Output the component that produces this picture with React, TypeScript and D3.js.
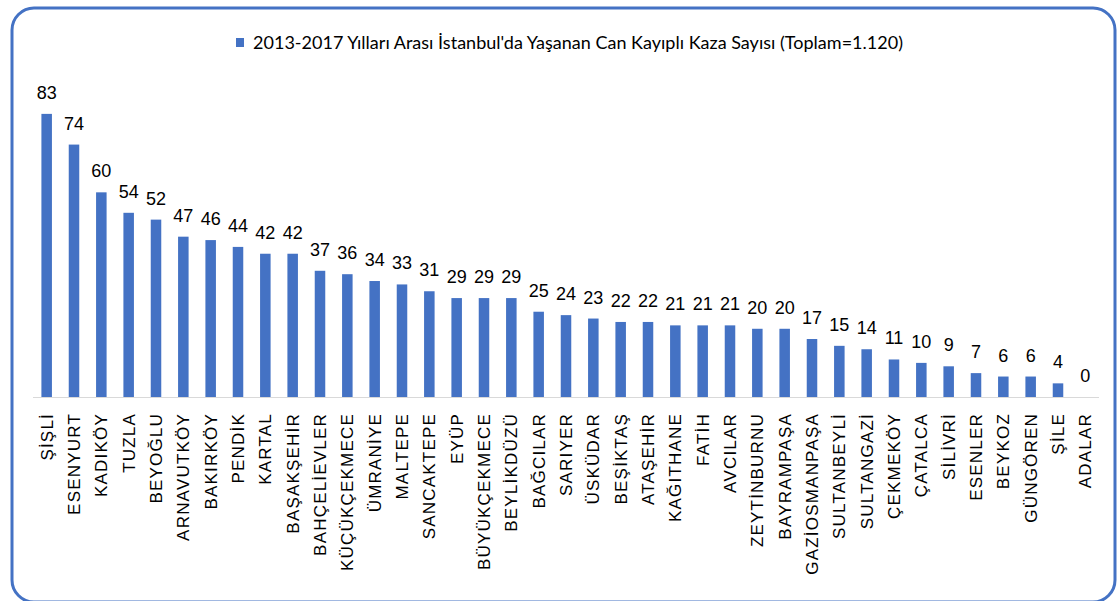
import React from "react";
import * as d3 from "d3";

const WIDTH = 1117;
const HEIGHT = 601;

const districts = [
  "ŞİŞLİ", "ESENYURT", "KADIKÖY", "TUZLA", "BEYOĞLU", "ARNAVUTKÖY", "BAKIRKÖY", "PENDİK",
  "KARTAL", "BAŞAKŞEHİR", "BAHÇELİEVLER", "KÜÇÜKÇEKMECE", "ÜMRANİYE", "MALTEPE", "SANCAKTEPE",
  "EYÜP", "BÜYÜKÇEKMECE", "BEYLİKDÜZÜ", "BAĞCILAR", "SARIYER", "ÜSKÜDAR", "BEŞİKTAŞ",
  "ATAŞEHİR", "KAĞITHANE", "FATİH", "AVCILAR", "ZEYTİNBURNU", "BAYRAMPAŞA", "GAZİOSMANPAŞA",
  "SULTANBEYLİ", "SULTANGAZİ", "ÇEKMEKÖY", "ÇATALCA", "SİLİVRİ", "ESENLER", "BEYKOZ",
  "GÜNGÖREN", "ŞİLE", "ADALAR",
];

const accidents = [
  83, 74, 60, 54, 52, 47, 46, 44, 42, 42, 37, 36, 34, 33, 31, 29, 29, 29, 25, 24, 23, 22,
  22, 21, 21, 21, 20, 20, 17, 15, 14, 11, 10, 9, 7, 6, 6, 4, 0,
];

const seriesName = "2013-2017 Yılları Arası İstanbul'da Yaşanan Can Kayıplı Kaza Sayısı (Toplam=1.120)";

const BLUE = "#4472C4";
const FONT = "'Liberation Sans', Arial, sans-serif";

export default function App() {
  const x = d3.scaleBand<string>()
    .domain(districts)
    .range([33, 1099])
    .paddingInner(0.615)
    .paddingOuter(0.3075);

  const y = d3.scaleLinear().domain([0, 90]).range([397, 90]);

  const rows = districts.map((d, i) => ({ name: d, value: accidents[i] }));

  return (
    <svg
      width={WIDTH}
      height={HEIGHT}
      style={{ position: "absolute", left: 0, top: 0, background: "#fff" }}
      fontFamily={FONT}
    >
      <rect x={12} y={8} width={1103} height={594} rx={22} fill="#fff" stroke={BLUE} strokeWidth={3} />

      {/* legend */}
      <rect x={236} y={38} width={8} height={9} fill={BLUE} />
      <text x={253} y={49} fontSize={18} fontFamily="Lato, sans-serif" fill="#000" textLength={650} lengthAdjust="spacing">
        {seriesName}
      </text>

      {/* bars */}
      {rows.map((r) => (
        <rect
          key={r.name}
          x={x(r.name)}
          y={y(r.value)}
          width={x.bandwidth()}
          height={y(0) - y(r.value)}
          fill={BLUE}
        />
      ))}

      {/* axis line */}
      <line x1={33} x2={1099} y1={y(0) + 0.5} y2={y(0) + 0.5} stroke="#d9d9d9" strokeWidth={1} />

      {/* value labels */}
      {rows.map((r) => (
        <text
          key={"v" + r.name}
          x={(x(r.name) as number) + x.bandwidth() / 2}
          y={y(r.value) - 15}
          textAnchor="middle"
          fontSize={18}
          fill="#000"
        >
          {r.value}
        </text>
      ))}

      {/* category labels */}
      {rows.map((r) => {
        const cx = (x(r.name) as number) + x.bandwidth() / 2;
        return (
          <text
            key={"c" + r.name}
            transform={`translate(${cx},413) rotate(-90)`}
            textAnchor="end"
            dy="0.36em"
            fontSize={17}
            letterSpacing={1.2}
            fill="#000"
          >
            {r.name}
          </text>
        );
      })}
    </svg>
  );
}
